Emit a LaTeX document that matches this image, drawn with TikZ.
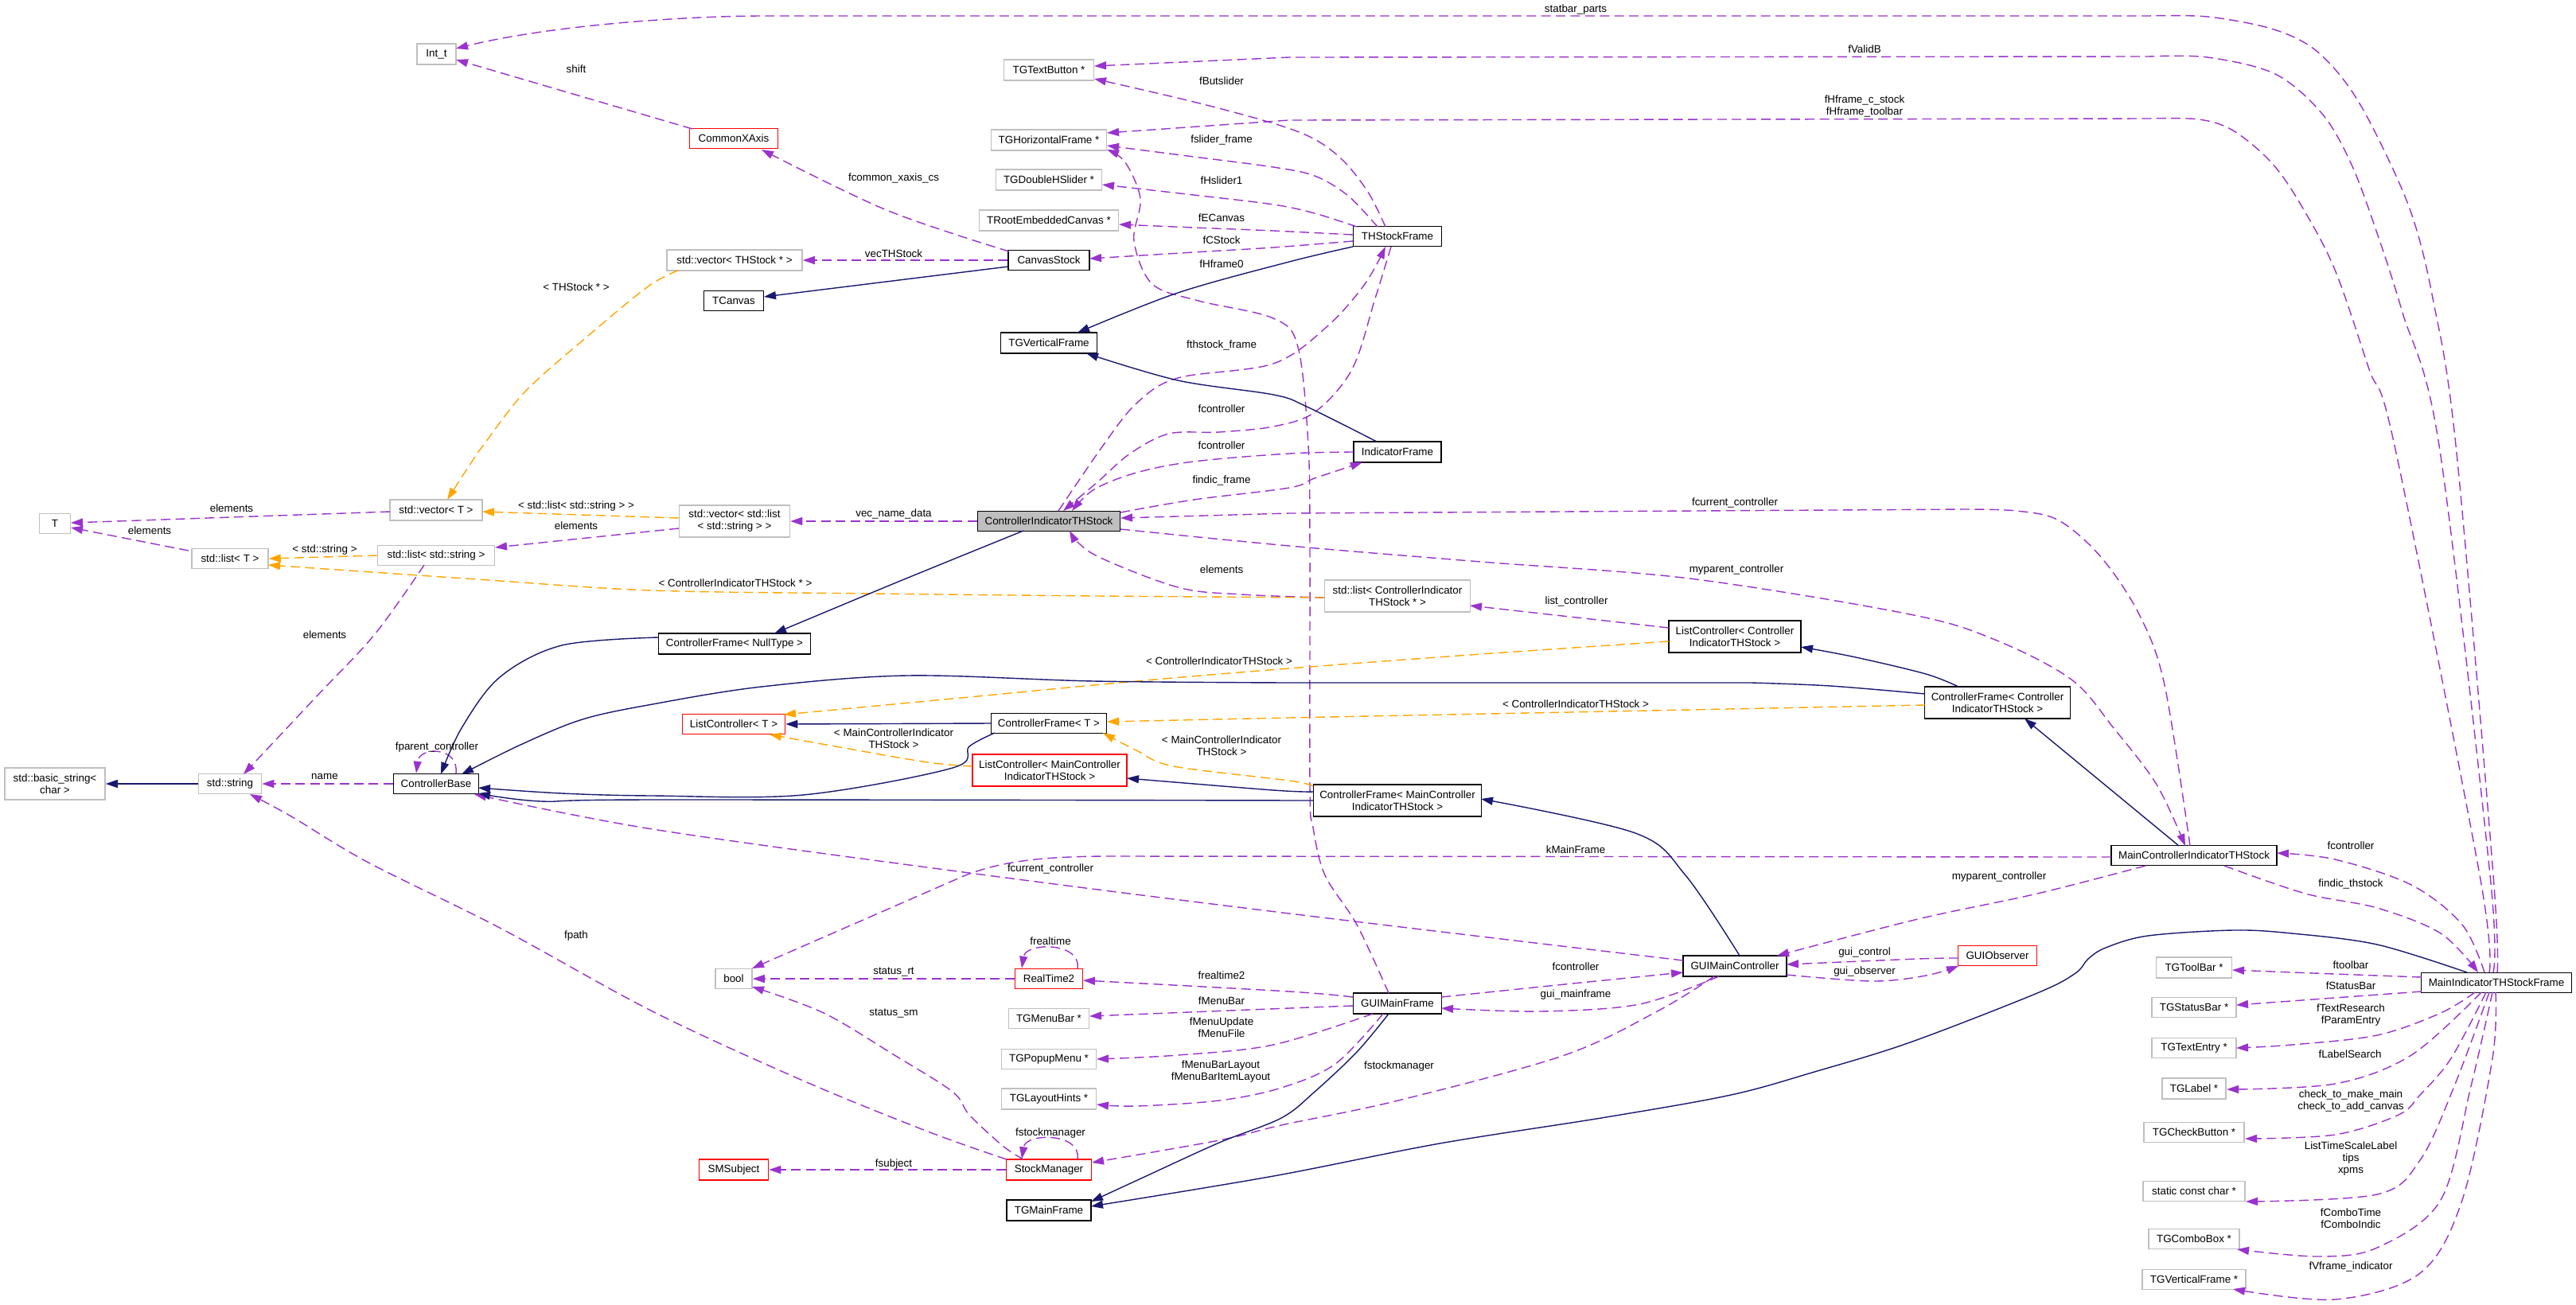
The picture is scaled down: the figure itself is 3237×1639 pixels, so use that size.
\documentclass[tikz,border=0pt]{standalone}
\usepackage{fontspec}
\setmainfont{Liberation Sans}
\usetikzlibrary{arrows.meta}
\definecolor{purp}{HTML}{9A32CD}
\definecolor{navyc}{HTML}{191970}
\definecolor{orng}{HTML}{FFA500}
\definecolor{gbord}{HTML}{BFBFBF}
\definecolor{gfill}{HTML}{BFBFBF}
\newcommand{\nf}{\fontsize{6.7}{7.5}\selectfont}
\begin{document}
\begin{tikzpicture}[x=0.5pt,y=-0.5pt,
  box/.style={rectangle, draw, line width=0.75pt, inner sep=0pt, align=center, font=\nf, fill=white},
  doc/.style={box, draw=black},
  undoc/.style={box, draw=gbord},
  trunc/.style={box, draw=red},
  sz/.style 2 args={minimum width={#1*0.5pt}, minimum height={#2*0.5pt}},
  tip/.style={-{Triangle[length=7.5pt,width=5pt]}},
  use/.style={draw=purp, line width=0.7pt, dash pattern=on 6pt off 3.2pt, tip},
  inh/.style={draw=navyc, line width=0.7pt, tip},
  tmpl/.style={draw=orng, line width=0.7pt, dash pattern=on 6pt off 3.2pt, tip},
  lbl/.style={font=\nf, inner sep=0pt, align=center},
  sm/.style={smooth, tension=0.55}
]
\fill[white] (0,0) rectangle (3237,1639);
\useasboundingbox (0,0) rectangle (3237,1639);

% ---------------- nodes ----------------
\node[undoc, sz={49}{26}] (intt) at (548.5,68) {Int\_t};
\node[undoc, sz={113}{26}] (tgtextbutton) at (1318,88) {TGTextButton *};
\node[trunc, sz={111}{25}] (commonxaxis) at (922,174) {CommonXAxis};
\node[undoc, sz={145}{26}] (tghframe) at (1318,176) {TGHorizontalFrame *};
\node[undoc, sz={133}{26}] (tgdoublehslider) at (1318,226) {TGDoubleHSlider *};
\node[undoc, sz={175}{26}] (trootec) at (1318,277) {TRootEmbeddedCanvas *};
\node[doc, sz={111}{25}] (thstockframe) at (1756,297) {THStockFrame};
\node[undoc, sz={170}{26}] (vecthstock) at (923,327) {std::vector< THStock * >};
\node[doc, sz={102}{25}] (canvasstock) at (1318,327) {CanvasStock};
\node[doc, sz={75}{25}] (tcanvas) at (922,378) {TCanvas};
\node[doc, sz={121}{26}] (tgvframe) at (1318,431) {TGVerticalFrame};
\node[doc, sz={110}{26}] (indicatorframe) at (1756,568) {IndicatorFrame};
\node[undoc, sz={39}{25}] (T) at (69,658) {T};
\node[undoc, sz={116}{26}] (vecT) at (548,641) {std::vector< T >};
\node[doc, sz={179}{25}, fill=gfill] (cits) at (1318,655) {ControllerIndicatorTHStock};
\node[undoc, sz={139}{40}] (veclist) at (923,655) {std::vector< std::list\\< std::string > >};
\node[undoc, sz={147}{25}] (liststring) at (548,698) {std::list< std::string >};
\node[undoc, sz={96}{25}] (listT) at (289,702) {std::list< T >};
\node[undoc, sz={183}{40}] (listcits) at (1756,749) {std::list< ControllerIndicator\\THStock * >};
\node[doc, sz={166}{40}] (lccits) at (2180,800) {ListController< Controller\\IndicatorTHStock >};
\node[doc, sz={191}{26}] (cfnull) at (923,809) {ControllerFrame< NullType >};
\node[doc, sz={183}{40}] (cfcits) at (2510,883) {ControllerFrame< Controller\\IndicatorTHStock >};
\node[doc, sz={145}{25}] (cfT) at (1318,909) {ControllerFrame< T >};
\node[trunc, sz={129}{25}] (lcT) at (922,910) {ListController< T >};
\node[trunc, sz={194}{40}] (lcmcits) at (1319,968) {ListController< MainController\\IndicatorTHStock >};
\node[undoc, sz={126}{40}] (basicstring) at (69,985) {std::basic\_string<\\char >};
\node[undoc, sz={79}{25}] (stdstring) at (289,985) {std::string};
\node[doc, sz={107}{25}] (cbase) at (548,985) {ControllerBase};
\node[doc, sz={211}{40}] (cfmcits) at (1756,1006) {ControllerFrame< MainController\\IndicatorTHStock >};
\node[doc, sz={208}{25}] (mcits) at (2757,1075) {MainControllerIndicatorTHStock};
\node[trunc, sz={99}{25}] (guiobserver) at (2510,1201) {GUIObserver};
\node[doc, sz={130}{26}] (guimc) at (2180,1214) {GUIMainController};
\node[undoc, sz={95}{26}] (tgtoolbar) at (2757,1216) {TGToolBar *};
\node[undoc, sz={46}{25}] (bool) at (922,1230) {bool};
\node[trunc, sz={85}{25}] (realtime2) at (1318,1230) {RealTime2};
\node[doc, sz={189}{25}] (mitsf) at (3137,1235) {MainIndicatorTHStockFrame};
\node[doc, sz={111}{26}] (guimf) at (1756,1261) {GUIMainFrame};
\node[undoc, sz={106}{25}] (tgstatusbar) at (2757,1266) {TGStatusBar *};
\node[undoc, sz={101}{25}] (tgmenubar) at (1318,1280) {TGMenuBar *};
\node[undoc, sz={106}{25}] (tgtextentry) at (2757,1317) {TGTextEntry *};
\node[undoc, sz={119}{25}] (tgpopup) at (1318,1331) {TGPopupMenu *};
\node[undoc, sz={80}{26}] (tglabel) at (2757,1368) {TGLabel *};
\node[undoc, sz={119}{26}] (tglayout) at (1318,1381) {TGLayoutHints *};
\node[undoc, sz={126}{25}] (tgcheck) at (2757,1423) {TGCheckButton *};
\node[trunc, sz={87}{26}] (smsubject) at (922,1470) {SMSubject};
\node[trunc, sz={107}{26}] (stockmanager) at (1318,1470) {StockManager};
\node[undoc, sz={128}{25}] (scc) at (2757,1497) {static const char *};
\node[doc, sz={106}{26}] (tgmainframe) at (1318,1521) {TGMainFrame};
\node[undoc, sz={114}{25}] (tgcombo) at (2757,1557) {TGComboBox *};
\node[undoc, sz={130}{25}] (tgvframe2) at (2757,1608) {TGVerticalFrame *};

% ---------------- usage edges (purple) ----------------
\draw[use] plot[sm] coordinates {([shift={(1,-13)}]mitsf.center) (3133,1100) (3086,560) (3057,375) (3030,268) (2987,171) (2950,107) (2907,61) (2854,36) (2774,21) (2700,20)} -- (960,20) .. controls (860,20) and (690,32) .. ([shift={(24.5,-7)}]intt.center);
\draw[use] plot[sm] coordinates {([shift={(-4,-13)}]mitsf.center) (3129,1100) (3065,560) (3019,393) (2987,293) (2955,207) (2918,143) (2859,93) (2774,72) (2700,71)} -- (1620,72) -- ([shift={(57,-5)}]tgtextbutton.center);
\draw[use] plot[sm] coordinates {([shift={(-9,-13)}]mitsf.center) (3116,1100) (3009,560) (2977,464) (2934,339) (2891,257) (2854,204) (2806,164) (2763,150) (2700,149)} -- (1620,151) -- ([shift={(73,-9)}]tghframe.center);
\draw[use] plot[sm] coordinates {([shift={(-15,-12)}]thstockframe.center) (1720,243) (1689,203) (1652,175) (1600,155) (1500,128) ([shift={(57,11)}]tgtextbutton.center)};
\draw[use] plot[sm] coordinates {([shift={(-25,-12)}]thstockframe.center) (1694,246) (1652,221) (1600,210) (1500,197) ([shift={(73,7)}]tghframe.center)};
\draw[use] plot[sm] coordinates {([shift={(-51,-12)}]thstockframe.center) (1652,268) (1600,257) (1500,245) ([shift={(67,6)}]tgdoublehslider.center)};
\draw[use] plot[sm] coordinates {([shift={(-56,-2)}]thstockframe.center) (1600,290) (1500,286) ([shift={(88,5)}]trootec.center)};
\draw[use] plot[sm] coordinates {([shift={(-56,6)}]thstockframe.center) (1600,311) (1500,317) ([shift={(51,-2)}]canvasstock.center)};
\draw[use] plot[sm] coordinates {([shift={(-11,-13)}]guimf.center) (1705,1162) (1665,1100) (1650,1040) (1646,990) (1646,700) (1644,560) (1631,436) (1600,400) (1506,378) (1448,357) (1425,303) (1433,250) (1414,204) ([shift={(73,12)}]tghframe.center)};
\draw[use] plot[sm] coordinates {([shift={(12,-13)}]cits.center) (1386,560) (1428,507) (1480,475) (1600,457) (1668,410) (1715,357) ([shift={(-15,13)}]thstockframe.center)};
\draw[use] plot[sm] coordinates {([shift={(-8,13)}]thstockframe.center) (1728,375) (1699,464) (1652,518) (1600,536) (1532,543) (1469,545) (1420,570) (1380,605) ([shift={(18,-13)}]cits.center)};
\draw[use] plot[sm] coordinates {([shift={(-55,0)}]indicatorframe.center) (1620,570) (1500,580) (1428,594) (1375,615) ([shift={(29,-13)}]cits.center)};
\draw[use] plot[sm] coordinates {([shift={(90,-11)}]cits.center) (1500,628) (1620,613) (1652,601) ([shift={(-44,13)}]indicatorframe.center)};
\draw[use] plot[sm] coordinates {([shift={(-5,-12)}]mcits.center) (2720,861) (2688,772) (2640,700) (2587,654) (2534,642) (2470,640)} -- (1620,645) -- ([shift={(90,-4)}]cits.center);
\draw[use] plot[sm] coordinates {([shift={(90,10)}]cits.center) (1620,686) (1861,706) (2123,727) (2400,772) (2507,804) (2603,854) (2656,915) (2710,986) ([shift={(-11,-12)}]mcits.center)};
\draw[use] plot[sm] coordinates {([shift={(-92,2)}]listcits.center) (1560,747) (1480,738) (1375,697) ([shift={(26,12)}]cits.center)};
\draw[use] ([shift={(-83,-11)}]lccits.center) -- ([shift={(91,12)}]listcits.center);
\draw[use] (cits.west) -- (veclist.east);
\draw[use] ([shift={(-70,9)}]veclist.center) -- ([shift={(74,-10)}]liststring.center);
\draw[use] plot[sm] coordinates {([shift={(-15,12)}]liststring.center) (471,797) (397,876) ([shift={(17,-12)}]stdstring.center)};
\draw[use] ([shift={(-58,2)}]vecT.center) -- ([shift={(20,-1)}]T.center);
\draw[use] ([shift={(-52,-10)}]listT.center) -- ([shift={(20,5)}]T.center);
\draw[use] (cbase.west) -- (stdstring.east);
\draw[use] ([shift={(25,0)}]cbase.north) .. controls +(4,-34) and +(4,-34) .. ([shift={(-25,0)}]cbase.north);
\draw[use] (canvasstock.west) -- (vecthstock.east);
\draw[use] plot[sm] coordinates {([shift={(-50,-11)}]canvasstock.center) (1114,264) ([shift={(35,14)}]commonxaxis.center)};
\draw[use] ([shift={(-52,-12)}]commonxaxis.center) -- ([shift={(24.5,7)}]intt.center);
\draw[use] ([shift={(-104,2)}]mcits.center) -- (1400,1076) .. controls (1310,1076) and (1260,1082) .. (1213,1100) -- ([shift={(23,-13)}]bool.center);
\draw[use] plot[sm] coordinates {([shift={(-65,-7)}]guimc.center) (1620,1148) (1218,1097) (820,1042) ([shift={(48,13)}]cbase.center)};
\draw[use] (realtime2.west) -- (bool.east);
\draw[use] ([shift={(36,0)}]realtime2.north) .. controls +(5,-33) and +(5,-33) .. ([shift={(-34,0)}]realtime2.north);
\draw[use] plot[sm] coordinates {([shift={(-56,-8)}]guimf.center) (1620,1246) ([shift={(43,2)}]realtime2.center)};
\draw[use] plot[sm] coordinates {([shift={(-56,3)}]guimf.center) (1620,1267) ([shift={(51,-3)}]tgmenubar.center)};
\draw[use] plot[sm] coordinates {([shift={(-31,13)}]guimf.center) (1600,1313) (1480,1326) ([shift={(60,0)}]tgpopup.center)};
\draw[use] plot[sm] coordinates {([shift={(-18,13)}]guimf.center) (1678,1337) (1610,1367) (1532,1383) (1428,1390) ([shift={(60,7)}]tglayout.center)};
\draw[use] plot[sm] coordinates {([shift={(-26,13)}]guimc.center) (2086,1269) (1966,1326) (1757,1383) (1610,1414) (1532,1433) ([shift={(54,-9)}]stockmanager.center)};
\draw[use] plot[sm] coordinates {([shift={(55,-8)}]guimf.center) (1966,1237) ([shift={(-65,8)}]guimc.center)};
\draw[use] plot[sm] coordinates {([shift={(-20,13)}]guimc.center) (2060,1262) (1935,1271) ([shift={(55,6)}]guimf.center)};
\draw[use] plot[sm] coordinates {([shift={(-61,13)}]mcits.center) (2560,1123) (2410,1155) ([shift={(53,-13)}]guimc.center)};
\draw[use] plot[sm] coordinates {([shift={(-49,3)}]guiobserver.center) (2410,1205) ([shift={(65,-2)}]guimc.center)};
\draw[use] plot[sm] coordinates {([shift={(65,11)}]guimc.center) (2353,1233) (2420,1226) ([shift={(-49,13)}]guiobserver.center)};
\draw[use] plot[sm] coordinates {([shift={(-15,-13)}]mitsf.center) (3094,1162) (3030,1112) (2934,1080) ([shift={(104,-3)}]mcits.center)};
\draw[use] plot[sm] coordinates {([shift={(38,13)}]mcits.center) (2897,1123) (2987,1141) (3067,1173) ([shift={(-23,-13)}]mitsf.center)};
\draw[use] plot[sm] coordinates {([shift={(-94,-7)}]mitsf.center) (2934,1224) ([shift={(48,3)}]tgtoolbar.center)};
\draw[use] ([shift={(-94,11)}]mitsf.center) -- ([shift={(53,-3)}]tgstatusbar.center);
\draw[use] plot[sm] coordinates {([shift={(-27,12)}]mitsf.center) (3067,1273) (2987,1301) (2880,1313) ([shift={(53,0)}]tgtextentry.center)};
\draw[use] plot[sm] coordinates {([shift={(-19,12)}]mitsf.center) (3030,1326) (2934,1362) ([shift={(41,1)}]tglabel.center)};
\draw[use] plot[sm] coordinates {([shift={(-13,12)}]mitsf.center) (3080,1330) (3041,1376) (3014,1401) (2934,1426) ([shift={(64,8)}]tgcheck.center)};
\draw[use] plot[sm] coordinates {([shift={(-9,12)}]mitsf.center) (3084,1365) (3041,1458) (2987,1501) ([shift={(65,13)}]scc.center)};
\draw[use] plot[sm] coordinates {([shift={(-5,12)}]mitsf.center) (3105,1365) (3067,1508) (2987,1568) (2913,1579) ([shift={(54,13)}]tgcombo.center)};
\draw[use] plot[sm] coordinates {([shift={(-1,12)}]mitsf.center) (3132,1330) (3094,1508) (3041,1600) (2934,1633) ([shift={(49,12)}]tgvframe2.center)};
\draw[use] plot[sm] coordinates {([shift={(-32,-13)}]stockmanager.center) (1260,1440) (1218,1401) (1197,1372) (1124,1326) (1035,1273) ([shift={(23,10)}]bool.center)};
\draw[use] plot[sm] coordinates {([shift={(-53,-13)}]stockmanager.center) (1166,1422) (1009,1358) (820,1271) (628,1166) (463,1084) (366,1026) ([shift={(25,13)}]stdstring.center)};
\draw[use] (stockmanager.west) -- (smsubject.east);
\draw[use] ([shift={(36,0)}]stockmanager.north) .. controls +(5,-33) and +(5,-33) .. ([shift={(-34,0)}]stockmanager.north);

% ---------------- template edges (orange) ----------------
\draw[tmpl] plot[sm] coordinates {([shift={(-71,13)}]vecthstock.center) (813,361) (732,428) (659,493) (607,560) (591,583) ([shift={(14,-13)}]vecT.center)};
\draw[tmpl] ([shift={(-70,-4)}]veclist.center) -- ([shift={(58,2)}]vecT.center);
\draw[tmpl] (liststring.west) -- (listT.east);
\draw[tmpl] plot[sm] coordinates {([shift={(-92,2)}]listcits.center) (1380,749) (1100,746) (820,742) (600,728) ([shift={(48,8)}]listT.center)};
\draw[tmpl] plot[sm] coordinates {([shift={(-83,6)}]lccits.center) (1861,822) (1620,840) (1428,856) (1218,876) ([shift={(63,-12)}]lcT.center)};
\draw[tmpl] plot[sm] coordinates {([shift={(-91,3)}]cfcits.center) (2123,892) (1620,902) ([shift={(73,-2)}]cfT.center)};
\draw[tmpl] plot[sm] coordinates {([shift={(-97,-5)}]lcmcits.center) (1166,958) (1061,940) ([shift={(45,13)}]lcT.center)};
\draw[tmpl] plot[sm] coordinates {([shift={(-106,-18)}]cfmcits.center) (1620,981) (1475,963) (1428,943) ([shift={(68,12)}]cfT.center)};

% ---------------- inheritance edges (navy) ----------------
\draw[inh] (stdstring.west) -- (basicstring.east);
\draw[inh] ([shift={(-51,8)}]canvasstock.center) -- ([shift={(38,-5)}]tcanvas.center);
\draw[inh] plot[sm] coordinates {([shift={(-56,13)}]thstockframe.center) (1620,329) (1480,368) ([shift={(36,-13)}]tgvframe.center)};
\draw[inh] plot[sm] coordinates {([shift={(-26,-13)}]indicatorframe.center) (1642,511) (1600,496) (1480,478) ([shift={(47,13)}]tgvframe.center)};
\draw[inh] plot[sm] coordinates {([shift={(-32,12)}]cits.center) (1124,733) ([shift={(50,-13)}]cfnull.center)};
\draw[inh] plot[sm] coordinates {([shift={(-96,-8)}]cfnull.center) (706,811) (628,851) (580,915) ([shift={(6,-12)}]cbase.center)};
\draw[inh] plot[sm] coordinates {([shift={(-91,-11)}]cfcits.center) (2300,862) (2201,858)} -- (1620,858) -- plot[sm] coordinates {(1620,858) (1375,856) (1140,849) (957,863) (820,885) (732,904) (654,936) ([shift={(32,-12)}]cbase.center)};
\draw[inh] plot[sm] coordinates {([shift={(-68,12)}]cfT.center) (1218,938) (1197,965) (1009,999) (820,1000) (706,997) ([shift={(53,5)}]cbase.center)};
\draw[inh] plot[sm] coordinates {([shift={(-106,0)}]cfmcits.center) (820,1005) (680,1007) ([shift={(53,12)}]cbase.center)};
\draw[inh] plot[sm] coordinates {([shift={(-106,-11)}]cfmcits.center) (1600,993) ([shift={(97,10)}]lcmcits.center)};
\draw[inh] (cfT.west) -- (lcT.east);
\draw[inh] plot[sm] coordinates {([shift={(-49,-20)}]cfcits.center) (2420,847) (2332,826) ([shift={(83,13)}]lccits.center)};
\draw[inh] ([shift={(-19,-12)}]mcits.center) -- ([shift={(34,20)}]cfcits.center);
\draw[inh] plot[sm] coordinates {([shift={(6,-13)}]guimc.center) (2118,1100) (2055,1047) ([shift={(105,-2)}]cfmcits.center)};
\draw[inh] plot[sm] coordinates {([shift={(-11,13)}]guimf.center) (1705,1322) (1652,1372) (1610,1405) (1532,1436) (1438,1479) ([shift={(53,-11)}]tgmainframe.center)};
\draw[inh] plot[sm] coordinates {([shift={(-37,-13)}]mitsf.center) (2987,1187) (2880,1173) (2806,1169) (2699,1176) (2646,1191) (2624,1205) (2608,1223) (2560,1248) (2400,1310) (2280,1347) (2175,1376) (2018,1404) (1809,1437) (1600,1478) ([shift={(53,-5)}]tgmainframe.center)};

% ---------------- labels ----------------
\node[lbl] (lb1) at (1980,12) {statbar\_parts};
\node[lbl] (lb2) at (2343,62) {fValidB};
\node[lbl] (lb3) at (2343,133) {fHframe\_c\_stock\\fHframe\_toolbar};
\node[lbl] (lb4) at (724,87) {shift};
\node[lbl] (lb5) at (1535,102) {fButslider};
\node[lbl] (lb6) at (1535,176) {fslider\_frame};
\node[lbl] (lb7) at (1123,224) {fcommon\_xaxis\_cs};
\node[lbl] (lb8) at (1535,227) {fHslider1};
\node[lbl] (lb9) at (1535,274) {fECanvas};
\node[lbl] (lb10) at (1535,302) {fCStock};
\node[lbl] (lb11) at (1123,319) {vecTHStock};
\node[lbl] (lb12) at (1535,332) {fHframe0};
\node[lbl] (lb13) at (724,361) {< THStock * >};
\node[lbl] (lb14) at (1535,434) {fthstock\_frame};
\node[lbl] (lb15) at (1535,514) {fcontroller};
\node[lbl] (lb16) at (1535,560) {fcontroller};
\node[lbl] (lb17) at (1535,604) {findic\_frame};
\node[lbl] (lb18) at (2180,632) {fcurrent\_controller};
\node[lbl] (lb19) at (291,639) {elements};
\node[lbl] (lb20) at (724,636) {< std::list< std::string > >};
\node[lbl] (lb21) at (1123,646) {vec\_name\_data};
\node[lbl] (lb22) at (724,661) {elements};
\node[lbl] (lb23) at (188,667) {elements};
\node[lbl] (lb24) at (408,691) {< std::string >};
\node[lbl] (lb25) at (1535,716) {elements};
\node[lbl] (lb26) at (2182,716) {myparent\_controller};
\node[lbl] (lb27) at (924,733) {< ControllerIndicatorTHStock * >};
\node[lbl] (lb28) at (1981,756) {list\_controller};
\node[lbl] (lb29) at (408,798) {elements};
\node[lbl] (lb30) at (1532,831) {< ControllerIndicatorTHStock >};
\node[lbl] (lb31) at (1980,885) {< ControllerIndicatorTHStock >};
\node[lbl] (lb32) at (1123,928) {< MainControllerIndicator\\THStock >};
\node[lbl] (lb33) at (1535,937) {< MainControllerIndicator\\THStock >};
\node[lbl] (lb34) at (549,939) {fparent\_controller};
\node[lbl] (lb35) at (408,976) {name};
\node[lbl] (lb36) at (1980,1068) {kMainFrame};
\node[lbl] (lb37) at (2954,1063) {fcontroller};
\node[lbl] (lb38) at (1320,1092) {fcurrent\_controller};
\node[lbl] (lb39) at (2512,1102) {myparent\_controller};
\node[lbl] (lb40) at (2954,1111) {findic\_thstock};
\node[lbl] (lb41) at (724,1176) {fpath};
\node[lbl] (lb42) at (1320,1183) {frealtime};
\node[lbl] (lb43) at (2343,1197) {gui\_control};
\node[lbl] (lb44) at (2954,1213) {ftoolbar};
\node[lbl] (lb45) at (1980,1215) {fcontroller};
\node[lbl] (lb46) at (1123,1221) {status\_rt};
\node[lbl] (lb47) at (2343,1221) {gui\_observer};
\node[lbl] (lb48) at (1535,1226) {frealtime2};
\node[lbl] (lb49) at (2954,1239) {fStatusBar};
\node[lbl] (lb50) at (1980,1250) {gui\_mainframe};
\node[lbl] (lb51) at (1535,1258) {fMenuBar};
\node[lbl] (lb52) at (2954,1276) {fTextResearch\\fParamEntry};
\node[lbl] (lb53) at (1123,1273) {status\_sm};
\node[lbl] (lb54) at (1535,1291) {fMenuUpdate\\fMenuFile};
\node[lbl] (lb55) at (2953,1325) {fLabelSearch};
\node[lbl] (lb56) at (1758,1340) {fstockmanager};
\node[lbl] (lb57) at (1534,1347) {fMenuBarLayout\\fMenuBarItemLayout};
\node[lbl] (lb58) at (2954,1383) {check\_to\_make\_main\\check\_to\_add\_canvas};
\node[lbl] (lb59) at (1320,1424) {fstockmanager};
\node[lbl] (lb60) at (2954,1456) {ListTimeScaleLabel\\tips\\xpms};
\node[lbl] (lb61) at (1123,1463) {fsubject};
\node[lbl] (lb62) at (2954,1531) {fComboTime\\fComboIndic};
\node[lbl] (lb63) at (2954,1592) {fVframe\_indicator};
\end{tikzpicture}
\end{document}
